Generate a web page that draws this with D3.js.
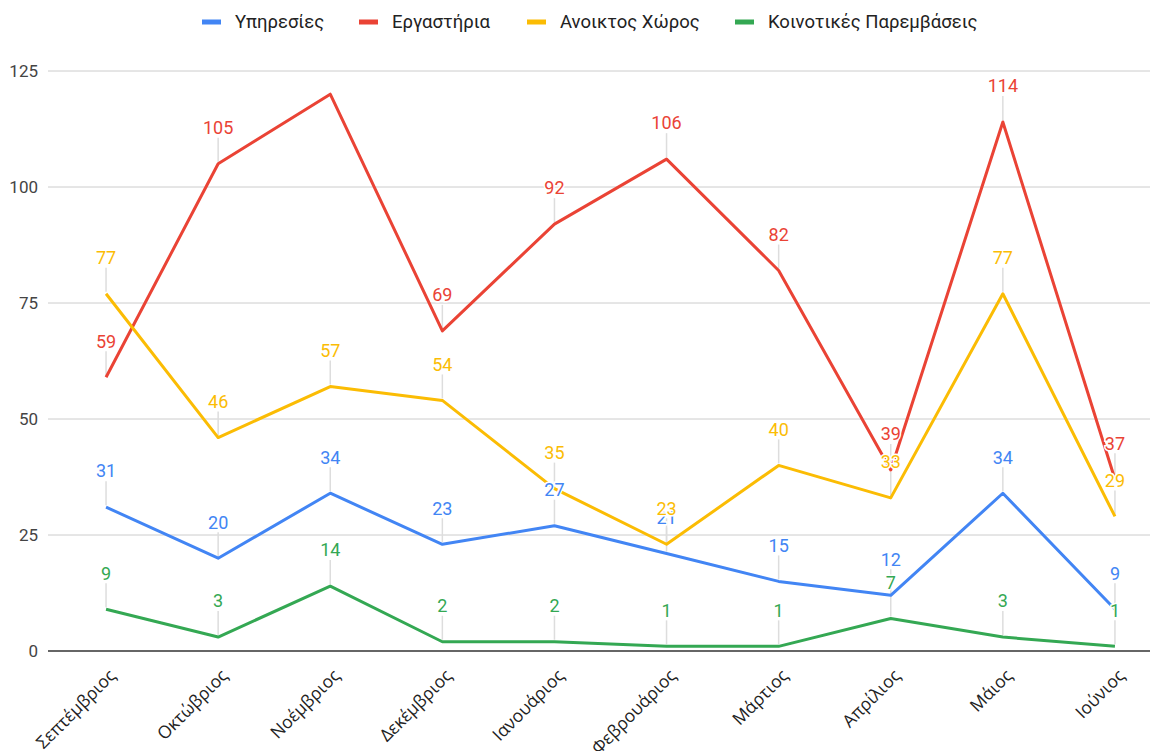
<!DOCTYPE html>
<html>
<head>
<meta charset="utf-8">
<script src="https://cdn.jsdelivr.net/npm/d3@7"></script>
<style>
  body { margin: 0; background: #fff; }
  svg { display: block; }
</style>
</head>
<body>
<svg></svg>
<script>
const months = ["Σεπτέμβριος", "Οκτώβριος", "Νοέμβριος", "Δεκέμβριος", "Ιανουάριος",
  "Φεβρουάριος", "Μάρτιος", "Απρίλιος", "Μάιος", "Ιούνιος"];
const seriesNames = ["Υπηρεσίες", "Εργαστήρια", "Ανοικτος Χώρος", "Κοινοτικές Παρεμβάσεις"];
const ypiresies = [31, 20, 34, 23, 27, 21, 15, 12, 34, 9];
const ergastiria = [59, 105, 120, 69, 92, 106, 82, 39, 114, 37];
const anoiktos = [77, 46, 57, 54, 35, 23, 40, 33, 77, 29];
const koinotikes = [9, 3, 14, 2, 2, 1, 1, 7, 3, 1];
const yTicks = [0, 25, 50, 75, 100, 125];
const colors = ["#4285F4", "#EA4335", "#FBBC04", "#34A853"];

const w = 1159;
const h = 751;

const svg = d3.select('svg')
    .attr("width", w)
    .attr("height", h)

const series = [ypiresies, ergastiria, anoiktos, koinotikes].map((vals, i) => ({
  name: seriesNames[i], color: colors[i], values: vals
}));

const xScale = d3.scalePoint()
  .domain(months)
  .range([50, 1171])
  .padding(0.5);

const yScale = d3.scaleLinear()
  .domain([0, 125])
  .range([651, 71]);

// gridlines + y labels
svg.append("g")
  .selectAll("line")
  .data(yTicks)
  .join("line")
  .attr("x1", 48)
  .attr("x2", 1150)
  .attr("y1", d => yScale(d))
  .attr("y2", d => yScale(d))
  .attr("stroke", d => d === 0 ? "#333" : "#ccc")
  .attr("stroke-width", d => d === 0 ? 1.5 : 1);

svg.append("g")
  .selectAll("text")
  .data(yTicks)
  .join("text")
  .attr("x", 38)
  .attr("y", d => yScale(d))
  .attr("dy", "0.35em")
  .attr("text-anchor", "end")
  .attr("font-family", "Roboto, sans-serif")
  .attr("font-size", 17)
  .attr("fill", "#444")
  .text(d => d);

// x labels
svg.append("g")
  .selectAll("text")
  .data(months)
  .join("text")
  .attr("transform", d => `translate(${xScale(d) + 2},${668}) rotate(-45)`)
  .attr("text-anchor", "end")
  .attr("dy", "0.7em")
  .attr("font-family", "'Open Sans', sans-serif")
  .attr("font-size", 17.5)
  .attr("fill", "#222")
  .text(d => d);

// leader lines
const points = [];
series.forEach(s => s.values.forEach((v, i) => points.push({ m: months[i], v: v, color: s.color })));
const labelled = points.filter(p => yScale(p.v) - 36 > 71);

svg.append("g")
  .selectAll("line")
  .data(labelled)
  .join("line")
  .attr("x1", d => xScale(d.m))
  .attr("x2", d => xScale(d.m))
  .attr("y1", d => yScale(d.v) - 2)
  .attr("y2", d => yScale(d.v) - 26)
  .attr("stroke", "#ddd")
  .attr("stroke-width", 1.5);

// lines
const line = d3.line()
  .x((d, i) => xScale(months[i]))
  .y(d => yScale(d));

svg.append("g")
  .selectAll("path")
  .data(series)
  .join("path")
  .attr("d", d => line(d.values))
  .attr("fill", "none")
  .attr("stroke", d => d.color)
  .attr("stroke-width", 3)
  .attr("stroke-linejoin", "round");

// value labels
svg.append("g")
  .selectAll("text")
  .data(labelled)
  .join("text")
  .attr("x", d => xScale(d.m))
  .attr("y", d => yScale(d.v) - 36)
  .attr("dy", "0.35em")
  .attr("text-anchor", "middle")
  .attr("font-family", "Roboto, sans-serif")
  .attr("font-size", 18)
  .attr("fill", d => d.color)
  .attr("stroke", "#fff")
  .attr("stroke-width", 3)
  .attr("paint-order", "stroke")
  .text(d => d.v);

// legend
const legendX = [235, 392, 560, 768];
const legend = svg.append("g")
  .selectAll("g")
  .data(series)
  .join("g")
  .attr("transform", (d, i) => `translate(${legendX[i]},22)`);

legend.append("rect")
  .attr("x", -33)
  .attr("y", -2.5)
  .attr("width", 19)
  .attr("height", 5)
  .attr("fill", d => d.color);

legend.append("text")
  .attr("x", 0)
  .attr("dy", "0.35em")
  .attr("font-family", "Roboto, sans-serif")
  .attr("font-size", 18.5)
  .attr("fill", "#222")
  .text(d => d.name);
</script>
</body>
</html>
